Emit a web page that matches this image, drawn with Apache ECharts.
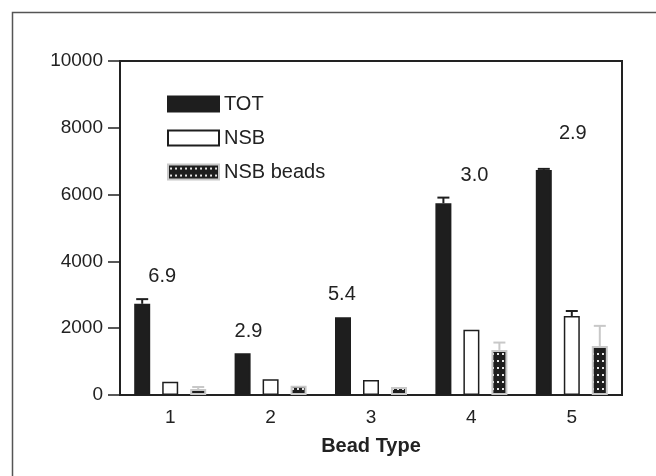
<!DOCTYPE html>
<html>
<head>
<meta charset="utf-8">
<script src="https://cdn.jsdelivr.net/npm/echarts@6.0.0/dist/echarts.min.js"></script>
<style>
html,body{margin:0;padding:0;background:#fff;}
#chart{width:656px;height:476px;}
</style>
</head>
<body>
<div id="chart"></div>
<script>
// ---- data ----
var categories = ['1', '2', '3', '4', '5'];
var totValues = [2730, 1250, 2330, 5740, 6740];
var totErrors = [140, 0, 0, 170, 30];
var nsbValues = [400, 470, 450, 1955, 2365];
var nsbErrors = [0, 0, 0, 0, 150];
var beadsValues = [180, 280, 240, 1350, 1470];
var beadsErrors = [60, 0, 0, 220, 600];
var ratioLabels = ['6.9', '2.9', '5.4', '3.0', '2.9'];
var ratioLabelX = [0.92, 1.78, 2.71, 4.03, 5.01];
var ratioLabelY = [3560, 1900, 3010, 6560, 7840];
var yTicks = [0, 2000, 4000, 6000, 8000, 10000];

// ---- style ----
var FONT = 'Liberation Sans';
var INK = '#222';
var BAR_W = 16;
var BAR_GAP = 0.75;
var STEP = BAR_W * (1 + BAR_GAP);

var pat = document.createElement('canvas');
pat.width = 5; pat.height = 7;
var pc = pat.getContext('2d');
pc.fillStyle = '#1e1e1e'; pc.fillRect(0, 0, 5, 7);
pc.fillStyle = '#e6e6e6'; pc.fillRect(2, 3, 2, 2);

function errSeries(name, values, errors, offset, color) {
  var d = values.map(function (v, i) { return [i, v, errors[i]]; });
  return {
    type: 'custom',
    name: name,
    xAxisIndex: 0,
    yAxisIndex: 0,
    z: 1,
    silent: true,
    data: d,
    renderItem: function (params, api) {
      var e = api.value(2);
      if (!e) return null;
      var b = api.coord([api.value(0), api.value(1)]);
      var t = api.coord([api.value(0), api.value(1) + e]);
      var x = b[0] + offset;
      var st = { stroke: color, lineWidth: 2 };
      return {
        type: 'group',
        children: [
          { type: 'line', shape: { x1: x, y1: b[1], x2: x, y2: t[1] }, style: st },
          { type: 'line', shape: { x1: x - 6, y1: t[1], x2: x + 6, y2: t[1] }, style: st }
        ]
      };
    }
  };
}

var chart = echarts.init(document.getElementById('chart'), null, { renderer: 'canvas' });
var option = {
  backgroundColor: '#fff',
  animation: false,
  textStyle: { fontFamily: FONT },
  graphic: [{
    type: 'rect', left: 10, top: 10, silent: true,
    shape: { width: 700, height: 520 },
    style: { fill: 'none', stroke: '#555', lineWidth: 1.5 }
  }],
  grid: {
    left: 120, right: 34, top: 61, bottom: 81,
    show: true, borderColor: INK, borderWidth: 2, backgroundColor: 'transparent'
  },
  legend: {
    orient: 'vertical', left: 167, top: 94, padding: 0,
    itemWidth: 51, itemHeight: 15, itemGap: 14,
    icon: 'rect',
    data: ['TOT', 'NSB', 'NSB beads'],
    textStyle: { fontSize: 20, color: INK, fontFamily: FONT, lineHeight: 20 }
  },
  xAxis: [{
    type: 'category',
    data: categories,
    name: 'Bead Type',
    nameLocation: 'middle',
    nameGap: 41,
    nameTextStyle: { fontSize: 20, fontWeight: 'bold', color: INK, fontFamily: FONT },
    axisLine: { lineStyle: { color: INK, width: 2 } },
    axisTick: { show: false },
    axisLabel: { fontSize: 19, color: INK, margin: 13, fontFamily: FONT }
  }, {
    type: 'value', min: 0.5, max: 5.5, show: false
  }],
  yAxis: {
    type: 'value', min: 0, max: 10000, interval: 2000,
    splitLine: { show: false },
    axisLine: { show: true, lineStyle: { color: INK, width: 2 } },
    axisTick: { show: true, length: 12, lineStyle: { color: INK, width: 1.5 } },
    axisLabel: {
      fontSize: 19, color: INK, margin: 17, fontFamily: FONT,
      formatter: function (v) { return yTicks.indexOf(v) >= 0 ? String(v) : ''; }
    }
  },
  series: [{
    name: 'TOT', type: 'bar', data: totValues,
    barWidth: BAR_W, barGap: (BAR_GAP * 100) + '%',
    itemStyle: { color: '#1e1e1e', borderColor: '#1e1e1e', borderWidth: 2 },
    z: 2
  }, {
    name: 'NSB', type: 'bar', data: nsbValues,
    barWidth: BAR_W,
    itemStyle: { color: '#fff', borderColor: '#1e1e1e', borderWidth: 1.5 },
    z: 2
  }, {
    name: 'NSB beads', type: 'bar', data: beadsValues,
    barWidth: BAR_W,
    itemStyle: { color: { image: pat, repeat: 'repeat' }, borderColor: '#c8c8c8', borderWidth: 2 },
    z: 2
  },
  errSeries('TOT err', totValues, totErrors, -STEP, '#1e1e1e'),
  errSeries('NSB err', nsbValues, nsbErrors, 0, '#1e1e1e'),
  errSeries('beads err', beadsValues, beadsErrors, STEP, '#c8c8c8'),
  {
    name: 'ratio', type: 'scatter', xAxisIndex: 1, yAxisIndex: 0,
    symbolSize: 1, silent: true,
    itemStyle: { opacity: 0 },
    data: ratioLabelX.map(function (x, i) { return [x, ratioLabelY[i]]; }),
    label: {
      show: true, position: 'inside', fontSize: 20, color: INK, fontFamily: FONT,
      textBorderWidth: 0, opacity: 1,
      formatter: function (p) { return ratioLabels[p.dataIndex]; }
    }
  }]
};
chart.setOption(option);
</script>
</body>
</html>
